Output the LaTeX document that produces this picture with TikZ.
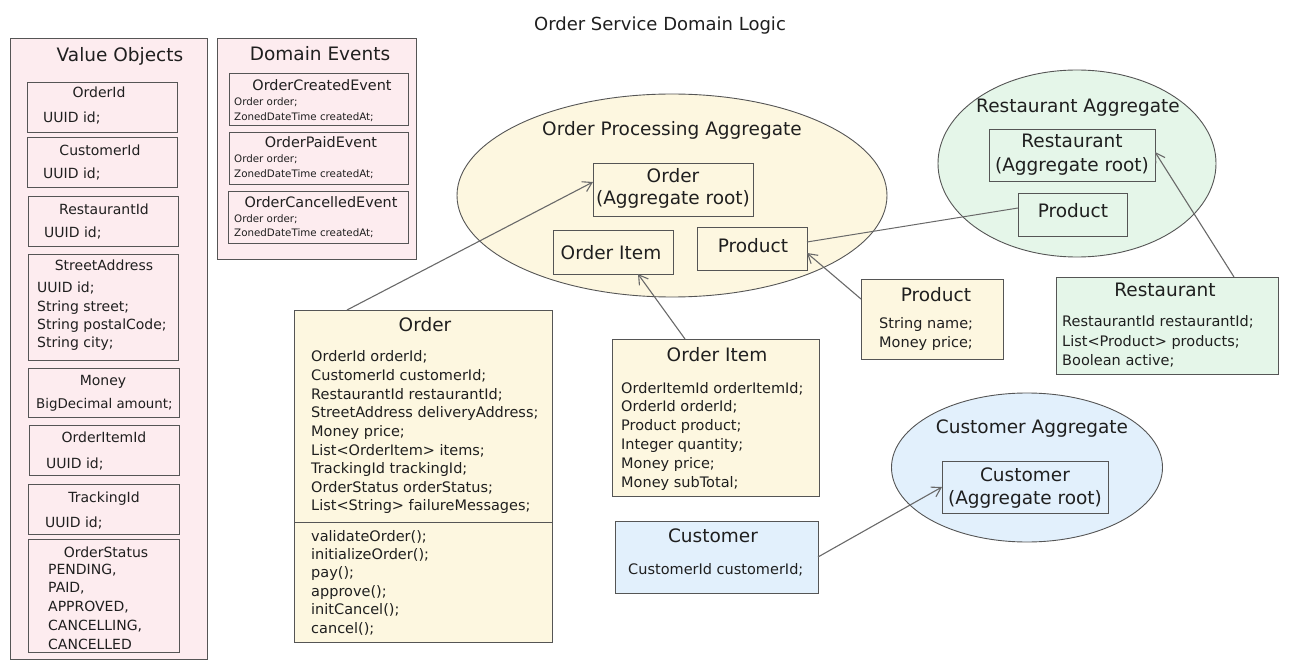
\documentclass[tikz,border=0pt]{standalone}
\usepackage{fontspec}
\setmainfont{DejaVu Sans}
\usetikzlibrary{shapes.geometric,arrows.meta}
\definecolor{pinkf}{RGB}{253,236,239}
\definecolor{yelf}{RGB}{253,247,224}
\definecolor{grnf}{RGB}{229,246,233}
\definecolor{bluf}{RGB}{226,240,252}
\definecolor{strk}{RGB}{85,85,85}
\definecolor{arrc}{RGB}{105,105,105}
\newcommand\Bx[6]{\node[#2, minimum width={#5-#3}, minimum height={#6-#4}] (#1) at ({(#3+#5)/2},{(#4+#6)/2}) {};}
\tikzset{
 boxbase/.style={draw=strk, line width=0.9pt, inner sep=0, outer sep=0},
 pkbox/.style={boxbase, fill=pinkf},
 ylbox/.style={boxbase, fill=yelf},
 gnbox/.style={boxbase, fill=grnf},
 blbox/.style={boxbase, fill=bluf},
 ell/.style={ellipse, draw=strk, line width=0.9pt, inner sep=0},
 ctext/.style={inner sep=0, anchor=base, text=black!88},
 ltext/.style={inner sep=0, anchor=base west, text=black!88},
 fbig/.style={font=\fontsize{18.5}{22}\selectfont},
 ftitle/.style={font=\fontsize{18}{22}\selectfont},
 fmid/.style={font=\fontsize{14.5}{17}\selectfont},
 fvo/.style={font=\fontsize{14}{17}\selectfont},
 fvosm/.style={font=\fontsize{13.4}{17}\selectfont},
 fev/.style={font=\fontsize{14.4}{17}\selectfont},
 fsm/.style={font=\fontsize{10.3}{12}\selectfont},
 conn/.style={draw=arrc, line width=1.1pt, -{Straight Barb[length=9pt,width=11pt]}},
 plainconn/.style={draw=arrc, line width=1pt},
 divline/.style={draw=strk, line width=0.9pt},
}
\begin{document}
\begin{tikzpicture}[x=1pt,y=-1pt]
\useasboundingbox (0,0) rectangle (1291,668);
\node[ctext,ftitle] (title) at (660,31) {Order Service Domain Logic};

% ---------- Value Objects ----------
\Bx{vo}{pkbox}{10}{38}{207}{659}
\node[ctext,fbig] (vot) at (120,62) {Value Objects};
\Bx{oid}{pkbox}{27}{82}{177}{132}
\node[ctext,fvo] (oidt) at (99,98) {OrderId};
\node[ltext,fvo] (oidl) at (43,123) {UUID id;};
\Bx{cid}{pkbox}{27}{137}{177}{187}
\node[ctext,fvo] (cidt) at (100,156) {CustomerId};
\node[ltext,fvo] (cidl) at (43,179) {UUID id;};
\Bx{rid}{pkbox}{28}{196}{178}{246}
\node[ctext,fvo] (ridt) at (104,215) {RestaurantId};
\node[ltext,fvo] (ridl) at (44,238) {UUID id;};
\Bx{sad}{pkbox}{28}{254}{178}{360}
\node[ctext,fvo] (sadt) at (104,271) {StreetAddress};
\foreach \s [count=\i from 0] in {UUID id;,String street;,String postalCode;,String city;}
 {\node[ltext,fvo] (sa\i) at (37,{293+\i*18.3}) {\s};}
\Bx{mon}{pkbox}{28}{368}{179}{417}
\node[ctext,fvo] (mont) at (103,385) {Money};
\node[ltext,fvosm] (monl) at (36,408) {BigDecimal amount;};
\Bx{oiid}{pkbox}{29}{425}{179}{475}
\node[ctext,fvo] (oiidt) at (104,442) {OrderItemId};
\node[ltext,fvo] (oiidl) at (46,468) {UUID id;};
\Bx{tid}{pkbox}{28}{484}{179}{534}
\node[ctext,fvo] (tidt) at (104,502) {TrackingId};
\node[ltext,fvo] (tidl) at (45,527) {UUID id;};
\Bx{ost}{pkbox}{28}{539}{179}{652}
\node[ctext,fvo] (ostt) at (106,557) {OrderStatus};
\foreach \s [count=\i from 0] in {{PENDING,},{PAID,},{APPROVED,},{CANCELLING,},CANCELLED}
 {\node[ltext,fvo] (os\i) at (48,{574+\i*18.8}) {\s};}

% ---------- Domain Events ----------
\Bx{de}{pkbox}{217}{38}{416}{259}
\node[ctext,fbig] (det) at (320,61) {Domain Events};
\Bx{ev1}{pkbox}{229}{73}{408}{125}
\node[ctext,fev] (ev1t) at (322,91) {OrderCreatedEvent};
\node[ltext,fsm] (ev1a) at (234,106) {Order order;};
\node[ltext,fsm] (ev1b) at (234,121) {ZonedDateTime createdAt;};
\Bx{ev2}{pkbox}{229}{132}{408}{184}
\node[ctext,fev] (ev2t) at (321,148) {OrderPaidEvent};
\node[ltext,fsm] (ev2a) at (234,163) {Order order;};
\node[ltext,fsm] (ev2b) at (234,178) {ZonedDateTime createdAt;};
\Bx{ev3}{pkbox}{228}{191}{408}{243}
\node[ctext,fev] (ev3t) at (321,208) {OrderCancelledEvent};
\node[ltext,fsm] (ev3a) at (234,223) {Order order;};
\node[ltext,fsm] (ev3b) at (234,237) {ZonedDateTime createdAt;};

% ---------- Order Processing Aggregate ----------
\node[ell, fill=yelf, minimum width=430, minimum height=203] (opa) at (672,195.5) {};
\node[ctext,fbig] (opat) at (672,136) {Order Processing Aggregate};
\Bx{ordagg}{ylbox}{593}{163}{753}{216}
\node[ctext,fbig] (ordagg1) at (673,183) {Order};
\node[ctext,fbig] (ordagg2) at (673,205) {(Aggregate root)};
\Bx{oiagg}{ylbox}{553}{230}{673}{274}
\node[ctext,fbig] (oiaggt) at (611,260) {Order Item};
\Bx{pragg}{ylbox}{697}{227}{807}{270}
\node[ctext,fbig] (praggt) at (753,253) {Product};

% ---------- Restaurant Aggregate ----------
\node[ell, fill=grnf, minimum width=278, minimum height=187] (ra) at (1077,163.5) {};
\node[ctext,fbig] (rat) at (1078,113) {Restaurant Aggregate};
\Bx{ragg}{gnbox}{989}{129}{1155}{181}
\node[ctext,fbig] (ragg1) at (1072,148) {Restaurant};
\node[ctext,fbig] (ragg2) at (1072,172) {(Aggregate root)};
\Bx{rpagg}{gnbox}{1018}{193}{1127}{236}
\node[ctext,fbig] (rpaggt) at (1073,218) {Product};

% ---------- Restaurant class ----------
\Bx{rcls}{gnbox}{1056}{277}{1278}{374}
\node[ctext,fbig] (rclst) at (1165,297) {Restaurant};
\node[ltext,fmid] (rcl1) at (1062,327) {RestaurantId restaurantId;};
\node[ltext,fmid] (rcl2) at (1062,347) {List<Product> products;};
\node[ltext,fmid] (rcl3) at (1062,366) {Boolean active;};

% ---------- Order class ----------
\Bx{ordcls}{ylbox}{294}{310}{552}{642}
\draw[divline] (ordcls.west |- 0,522) -- (ordcls.east |- 0,522);
\node[ctext,fbig] (ordclst) at (425,332) {Order};
\foreach \s [count=\i from 0] in {OrderId orderId;,CustomerId customerId;,RestaurantId restaurantId;,StreetAddress deliveryAddress;,Money price;,List<OrderItem> items;,TrackingId trackingId;,OrderStatus orderStatus;,List<String> failureMessages;}
 {\node[ltext,fmid] (oa\i) at (311,{362+\i*18.6}) {\s};}
\foreach \s [count=\i from 0] in {validateOrder();,initializeOrder();,pay();,approve();,initCancel();,cancel();}
 {\node[ltext,fmid] (om\i) at (311,{541+\i*18.4}) {\s};}

% ---------- Order Item class ----------
\Bx{oicls}{ylbox}{612}{339}{819}{496}
\node[ctext,fbig] (oiclst) at (717,362) {Order Item};
\foreach \s [count=\i from 0] in {OrderItemId orderItemId;,OrderId orderId;,Product product;,Integer quantity;,Money price;,Money subTotal;}
 {\node[ltext,fmid] (oi\i) at (621,{393+\i*18.8}) {\s};}

% ---------- Product class ----------
\Bx{prcls}{ylbox}{861}{279}{1003}{359}
\node[ctext,fbig] (prclst) at (936,302) {Product};
\node[ltext,fmid] (pr1) at (879,329) {String name;};
\node[ltext,fmid] (pr2) at (879,348) {Money price;};

% ---------- Customer Aggregate ----------
\node[ell, fill=bluf, minimum width=271, minimum height=149] (ca) at (1027,467.5) {};
\node[ctext,fbig] (cat) at (1032,433) {Customer Aggregate};
\Bx{cagg}{blbox}{942}{461}{1108}{513}
\node[ctext,fbig] (cagg1) at (1025,481) {Customer};
\node[ctext,fbig] (cagg2) at (1025,504) {(Aggregate root)};

% ---------- Customer class ----------
\Bx{ccls}{blbox}{615}{521}{818}{593}
\node[ctext,fbig] (cclst) at (713,542) {Customer};
\node[ltext,fmid] (ccl1) at (628,574) {CustomerId customerId;};

% ---------- Connectors ----------
\draw[conn] ([xshift=53pt]ordcls.north west) -- ([yshift=7.5pt]ordagg.west);
\draw[conn] ([xshift=73pt]oicls.north west) -- ([xshift=25pt]oiagg.south);
\draw[conn] ([yshift=-20pt]prcls.north west) -- ([yshift=-4.5pt]pragg.east);
\draw[plainconn] ([yshift=6.5pt]rpagg.west) -- ([yshift=6.5pt]pragg.east);
\draw[conn] ([xshift=178pt]rcls.north west) -- ([yshift=3pt]ragg.east);
\draw[conn] (ccls.east) -- (cagg.west);
\end{tikzpicture}
\end{document}
